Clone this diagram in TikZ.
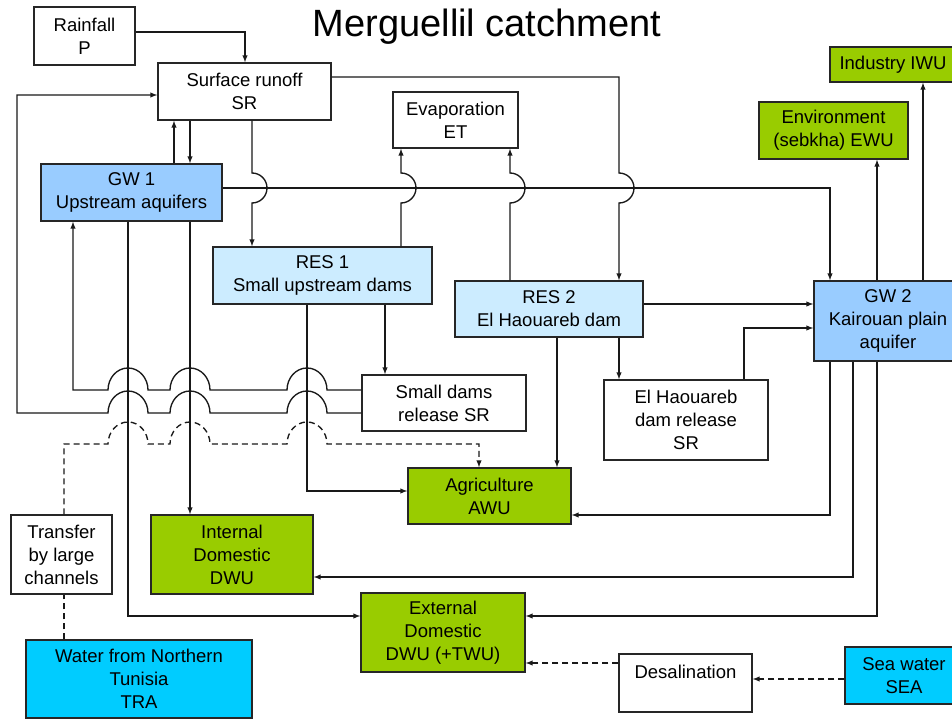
\documentclass[tikz,border=0pt]{standalone}
\usepackage{fontspec}
\setmainfont{Liberation Sans}
\usepackage{xcolor}
\usetikzlibrary{arrows,positioning}
\definecolor{gwblue}{RGB}{153,204,255}
\definecolor{resblue}{RGB}{204,236,255}
\definecolor{usegreen}{RGB}{153,204,0}
\definecolor{seacyan}{RGB}{0,204,255}
\tikzset{
      flow/.style      = {black!90, ->, >=latex, line width=1.35pt},
      transfer/.style  = {black!90, ->, >=latex, line width=1.35pt, dash pattern=on 6pt off 4pt},
      channel/.style   = {black!90, line width=1.35pt, dash pattern=on 6pt off 4pt},
      jump/.style      = {x radius=20, y radius=22},
      hop/.style       = {radius=15},
      plainbox/.style  = {rectangle, draw=black!85, line width=1.4pt, fill=white, align=center, inner sep=0pt, font=\fontsize{18.5}{23}\selectfont},
      gwbox/.style     = {plainbox, fill=gwblue},
      resbox/.style    = {plainbox, fill=resblue},
      demandbox/.style = {plainbox, fill=usegreen},
      sourcebox/.style = {plainbox, fill=seacyan},
    }

\begin{document}
\begin{tikzpicture}[x=1pt,y=1pt]
        \useasboundingbox (0,0) rectangle (952,-719);
        \clip (0,0) rectangle (952,-719);
        \node[anchor=base, font=\fontsize{38}{42}\selectfont] (title) at (487,-37) {Merguellil catchment};
        \node[plainbox, minimum width=101pt, minimum height=58pt] (rain) at (84.5,-36) {Rainfall\\P};
        \node[plainbox, minimum width=173pt, minimum height=57pt] (sr) at (244.5,-91.5) {Surface runoff\\SR};
        \node[plainbox, minimum width=125pt, minimum height=56pt] (evap) at (455.5,-120) {Evaporation\\ET};
        \node[gwbox, minimum width=181pt, minimum height=57pt] (gw1) at (131.5,-192.5) {GW 1\\Upstream aquifers};
        \node[resbox, minimum width=219pt, minimum height=57pt] (res1) at (322.5,-275.5) {RES 1\\Small upstream dams};
        \node[resbox, minimum width=188pt, minimum height=56pt] (res2) at (549,-309) {RES 2\\El Haouareb dam};
        \node[gwbox, minimum width=148pt, minimum height=80pt] (gw2) at (888,-321) {GW 2\\Kairouan plain\\aquifer};
        \node[demandbox, minimum width=149pt, minimum height=57pt] (env) at (833.5,-130.5) {Environment\\(sebkha) EWU};
        \node[demandbox, minimum width=126pt, minimum height=35pt] (ind) at (893,-64.5) {Industry IWU};
        \node[plainbox, minimum width=164pt, minimum height=56pt] (sdr) at (444,-403) {Small dams\\release SR};
        \node[plainbox, minimum width=164pt, minimum height=80pt] (ehr) at (686,-420) {El Haouareb\\dam release\\SR};
        \node[demandbox, minimum width=163pt, minimum height=56pt] (agri) at (489.5,-496) {Agriculture\\AWU};
        \node[demandbox, minimum width=162pt, minimum height=79pt] (idom) at (232,-554.5) {Internal\\Domestic\\DWU};
        \node[plainbox, minimum width=101pt, minimum height=79pt] (trans) at (61.5,-554.5) {Transfer\\by large\\channels};
        \node[demandbox, minimum width=164pt, minimum height=79pt] (edom) at (443,-632.5) {External\\Domestic\\DWU (+TWU)};
        \node[sourcebox, minimum width=226pt, minimum height=78pt] (tra) at (139,-679) {Water from Northern\\Tunisia\\TRA};
        \node[plainbox, minimum width=133pt, minimum height=58pt] (desal) at (685.5,-683) {Desalination\\\mbox{}};
        \node[sourcebox, minimum width=118pt, minimum height=57pt] (sea) at (904,-675.5) {Sea water\\SEA};

        \draw[flow] (rain.east |- 0,-32) -| (sr.north -| 245,0);
        \draw[flow] (sr.south -| 190,0) -- (gw1.north -| 190,0);
        \draw[flow] (gw1.north -| 174,0) -- (sr.south -| 174,0);
        \draw[flow] (sr.south -| 252,0) -- (252,-173) arc[start angle=90, end angle=-90, hop] -- (res1.north -| 252,0);
        \draw[flow] (gw1.east |- 0,-188) -| (gw2.north -| 830,0);
        \draw[flow] (res1.north -| 401,0) -- (401,-203) arc[start angle=-90, end angle=90, hop] -- (evap.south -| 401,0);
        \draw[flow] (res2.north -| 510,0) -- (510,-203) arc[start angle=-90, end angle=90, hop] -- (evap.south -| 510,0);
        \draw[flow] (sr.east |- 0,-77) -| (619,-173) arc[start angle=90, end angle=-90, hop] -- (res2.north -| 619,0);
        \draw[flow] (res1.south -| 385,0) -- (sdr.north -| 385,0);
        \draw[flow] (res1.south -| 307,0) |- (agri.west |- 0,-491);
        \draw[flow] (res2.south -| 557,0) -- (agri.north -| 557,0);
        \draw[flow] (res2.south -| 619,0) -- (ehr.north -| 619,0);
        \draw[flow] (res2.east |- 0,-304) -- (gw2.west |- 0,-304);
        \draw[flow] (ehr.north -| 744,0) |- (gw2.west |- 0,-328);
        \draw[flow] (gw2.north -| 877,0) -- (env.south -| 877,0);
        \draw[flow] (gw2.north -| 923,0) -- (ind.south -| 923,0);
        \draw[flow] (gw2.south -| 830,0) |- (agri.east |- 0,-515);
        \draw[flow] (gw2.south -| 853,0) |- (idom.east |- 0,-577);
        \draw[flow] (gw2.south -| 877,0) |- (edom.east |- 0,-616);
        \draw[flow] (gw1.south -| 190,0) -- (idom.north -| 190,0);
        \draw[flow] (gw1.south -| 128,0) |- (edom.west |- 0,-616);
        \draw[flow] (sdr.west |- 0,-390) -- (327,-390) arc[start angle=0, end angle=180, jump]
                    -- (210,-390) arc[start angle=0, end angle=180, jump]
                    -- (148,-390) arc[start angle=0, end angle=180, jump]
                    -- (73,-390) -- (gw1.south -| 73,0);
        \draw[flow] (sdr.west |- 0,-413) -- (327,-413) arc[start angle=0, end angle=180, jump]
                    -- (210,-413) arc[start angle=0, end angle=180, jump]
                    -- (148,-413) arc[start angle=0, end angle=180, jump]
                    -- (17,-413) |- (sr.west |- 0,-95);
        \draw[channel] (tra.north -| 64,0) -- (trans.south -| 64,0);
        \draw[transfer] (trans.north -| 64,0) |- (108,-444) arc[start angle=180, end angle=0, jump]
                    -- (170,-444) arc[start angle=180, end angle=0, jump]
                    -- (287,-444) arc[start angle=180, end angle=0, jump]
                    -| (agri.north -| 479,0);
        \draw[transfer] (sea.west |- 0,-679) -- (desal.east |- 0,-679);
        \draw[transfer] (desal.west |- 0,-663) -- (edom.east |- 0,-663);
\end{tikzpicture}
\end{document}
